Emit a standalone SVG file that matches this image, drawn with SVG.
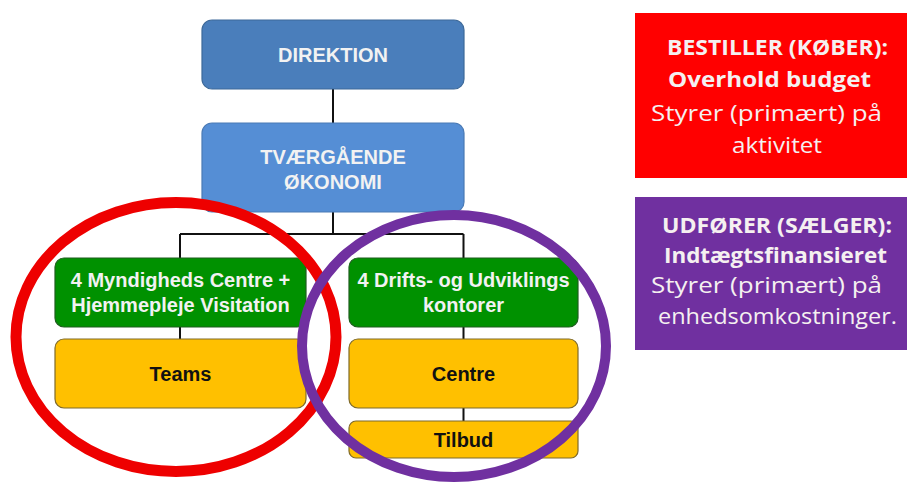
<svg xmlns="http://www.w3.org/2000/svg" width="907" height="483" viewBox="0 0 907 483">
<style>
.box{stroke-width:1.2}
.blue1{fill:#4a7ebb;stroke:#3d6999}
.blue2{fill:#558ed5;stroke:#4a7ab5}
.green{fill:#009100;stroke:#1e5e1e}
.yellow{fill:#ffc000;stroke:#7f6a2a}
.t{font-family:"Liberation Sans",Arial,sans-serif;font-weight:bold;font-size:20px;text-anchor:middle}
.w{fill:#f2f2f2}
.k{fill:#111}
.c{fill:none;stroke:#111;stroke-width:2}
.r{font-family:"Open Sans","Noto Sans",sans-serif;font-size:21.5px;text-anchor:middle;fill:#f5f0f0}
.b{font-weight:bold}
</style>
<g id="connectors">
<path class="c" d="M333 89V123M333 212V234M180 234H463.5M180 234V258M463.5 234V258M180 327V339M463.5 327V339M463.5 408V421"/>
</g>
<g id="direktion">
<rect class="box blue1" x="202" y="20" width="262" height="69" rx="10"/>
<text class="t w" x="333" y="62">DIREKTION</text>
</g>
<g id="tvaergaende">
<rect class="box blue2" x="202" y="123" width="262" height="89" rx="10"/>
<text class="t w" x="333" y="164">TVÆRGÅENDE</text>
<text class="t w" x="333" y="189">ØKONOMI</text>
</g>
<g id="myndighed">
<rect class="box green" x="55" y="258" width="251" height="69" rx="9"/>
<text class="t w" x="180.5" y="287">4 Myndigheds Centre +</text>
<text class="t w" x="180.5" y="312">Hjemmepleje Visitation</text>
</g>
<g id="drift">
<rect class="box green" x="349" y="258" width="229" height="69" rx="9"/>
<text class="t w" x="463.5" y="287">4 Drifts- og Udviklings</text>
<text class="t w" x="463.5" y="312">kontorer</text>
</g>
<g id="teams">
<rect class="box yellow" x="55" y="339" width="251" height="69" rx="9"/>
<text class="t k" x="180.5" y="381">Teams</text>
</g>
<g id="centre">
<rect class="box yellow" x="349" y="339" width="229" height="69" rx="9"/>
<text class="t k" x="463.5" y="381">Centre</text>
</g>
<g id="tilbud">
<rect class="box yellow" x="349" y="421" width="229" height="37" rx="7"/>
<text class="t k" x="463.5" y="447">Tilbud</text>
</g>
<g id="red-ring">
<ellipse cx="176" cy="337" rx="160" ry="134.5" fill="none" stroke="#ee0000" stroke-width="11"/>
</g>
<g id="purple-ring">
<ellipse cx="454" cy="346" rx="152" ry="131" fill="none" stroke="#7030a0" stroke-width="10"/>
</g>
<g id="bestiller">
<rect x="635" y="13" width="272" height="165" fill="#ff0000"/>
<text class="r b" x="777.5" y="55" textLength="221" lengthAdjust="spacingAndGlyphs">BESTILLER (KØBER):</text>
<text class="r b" x="769.5" y="87" textLength="203" lengthAdjust="spacingAndGlyphs">Overhold budget</text>
<text class="r" x="766.5" y="121" textLength="231" lengthAdjust="spacingAndGlyphs">Styrer (primært) på</text>
<text class="r" x="777" y="153" textLength="90" lengthAdjust="spacingAndGlyphs">aktivitet</text>
</g>
<g id="udfoerer">
<rect x="635" y="197" width="272" height="153" fill="#7030a0"/>
<text class="r b" x="777" y="233" textLength="230" lengthAdjust="spacingAndGlyphs">UDFØRER (SÆLGER):</text>
<text class="r b" x="775.5" y="263" textLength="223" lengthAdjust="spacingAndGlyphs">Indtægtsfinansieret</text>
<text class="r" x="766.5" y="293" textLength="231" lengthAdjust="spacingAndGlyphs">Styrer (primært) på</text>
<text class="r" x="777.5" y="324" textLength="239" lengthAdjust="spacingAndGlyphs">enhedsomkostninger.</text>
</g>
</svg>
